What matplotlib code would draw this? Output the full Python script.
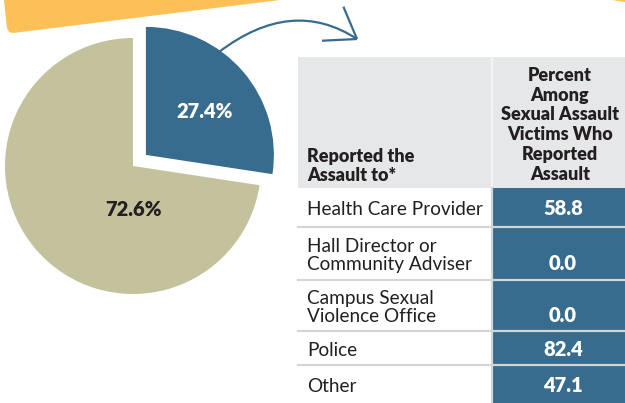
import math

import matplotlib

matplotlib.use("Agg")
import matplotlib.pyplot as plt
from matplotlib.patches import Polygon, Rectangle
from matplotlib.path import Path
from matplotlib.patches import PathPatch

# pie: share of sexual assault victims who reported the assault
pie_values = [27.4, 72.6]

# table: who the assault was reported to
row_labels = [
    ["Health Care Provider"],
    ["Hall Director or", "Community Adviser"],
    ["Campus Sexual", "Violence Office"],
    ["Police"],
    ["Other"],
]
row_values = [58.8, 0.0, 0.0, 82.4, 47.1]
header_left = ["Reported the", "Assault to*"]
header_right = ["Percent", "Among", "Sexual Assault", "Victims Who", "Reported", "Assault"]

BLUE = "#376c8e"
TAN = "#c4c19d"
ORANGE = "#fdbf57"
HEAD_GRAY = "#e6e7e8"
LINE_GRAY = "#d4d5d6"
TEXT = "#231f20"
FONT = "Lato"
BOLD = "heavy"

W, H = 625, 403
fig = plt.figure(figsize=(W / 100, H / 100), dpi=100)
ax = fig.add_axes([0, 0, 1, 1])

# pie in pixel units; y axis is flipped below, so angles run mirrored
pie_center = (133, 166)
pie_radius = 128
ax.pie(
    pie_values,
    colors=[BLUE, TAN],
    explode=[17, 0],
    startangle=-90,
    counterclock=True,
    radius=pie_radius,
    center=pie_center,
    wedgeprops={"linewidth": 0},
)
ax.text(205, 111, f"{pie_values[0]:.1f}%", color="white", fontsize=14.5,
        fontweight=BOLD, family=FONT, ha="center", va="center")
ax.text(133, 209, f"{pie_values[1]:.1f}%", color=TEXT, fontsize=14.5,
        fontweight=BOLD, family=FONT, ha="center", va="center")

ax.set_xlim(0, W)
ax.set_ylim(H, 0)
ax.set_aspect("auto")
ax.axis("off")

# orange band across the top left
ax.add_patch(Polygon([(4, 0), (7, 28), (9, 32), (13, 33), (280, 0)],
                     closed=True, facecolor=ORANGE, edgecolor="none"))
ax.add_patch(Polygon([(612, 0), (625, 0), (625, 1.5)], closed=True,
                     facecolor=ORANGE, edgecolor="none"))

# curved arrow from the blue slice to the table
p0, ctrl, p2 = (219, 52), (292, -3.5), (357, 39)
curve = Path([p0, ctrl, p2], [Path.MOVETO, Path.CURVE3, Path.CURVE3])
ax.add_patch(PathPatch(curve, facecolor="none", edgecolor=BLUE, linewidth=1.6,
                       capstyle="butt"))
back = math.atan2(ctrl[1] - p2[1], ctrl[0] - p2[0])
for da in (math.radians(34), math.radians(-36)):
    ang = back + da
    ax.plot([p2[0], p2[0] + 35 * math.cos(ang)], [p2[1], p2[1] + 35 * math.sin(ang)],
            color=BLUE, linewidth=1.6, solid_capstyle="butt")

# table
x0, x1, x2 = 298, 492, 640
head_top, head_bot = 57, 188
ax.add_patch(Rectangle((x0, head_top), x2 - x0, head_bot - head_top,
                       facecolor=HEAD_GRAY, edgecolor="none"))
ax.plot([x1, x1], [head_top, head_bot], color="#f4f4f4", linewidth=1.6)

for i, line in enumerate(header_left):
    ax.text(307, 162 + 19 * i, line, fontsize=13, fontweight=BOLD, color=TEXT,
            family=FONT, ha="left", va="baseline")
for i, line in enumerate(header_right):
    ax.text(560, 81 + 19.7 * i, line, fontsize=13, fontweight=BOLD, color=TEXT,
            family=FONT, ha="center", va="baseline")

row_edges = [188, 227, 280, 331, 365, 405]
for i, (lines, val) in enumerate(zip(row_labels, row_values)):
    top, bot = row_edges[i], row_edges[i + 1]
    ax.add_patch(Rectangle((x1, top), x2 - x1, bot - top,
                           facecolor=BLUE, edgecolor="none"))
    mid = (top + bot) / 2
    n = len(lines)
    baselines = [mid + 7.5 + 17.5 * (k - (n - 1) / 2) for k in range(n)]
    for b, line in zip(baselines, lines):
        ax.text(307, b, line, fontsize=13.7, color=TEXT, family=FONT,
                ha="left", va="baseline")
    ax.text(563, baselines[-1], f"{val:.1f}", fontsize=14.5, fontweight=BOLD,
            color="white", family=FONT, ha="center", va="baseline")

for y in row_edges[1:-1]:
    ax.plot([x0, x2], [y, y], color=LINE_GRAY, linewidth=1.6)
ax.plot([x1, x1], [head_bot, H], color=LINE_GRAY, linewidth=1.6)

fig.savefig("out.png", dpi=100)
